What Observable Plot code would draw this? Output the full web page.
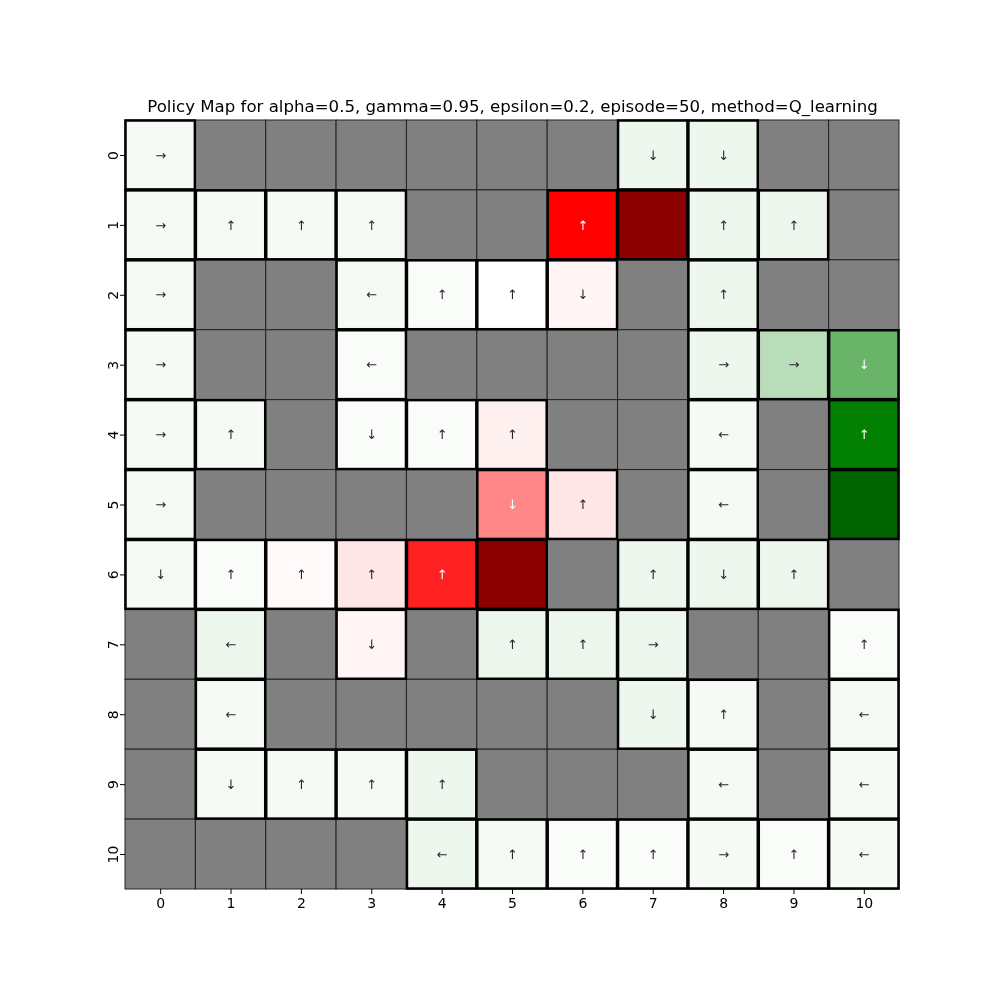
<!DOCTYPE html>
<html>
<head>
<meta charset="utf-8">
<script src="https://cdn.jsdelivr.net/npm/d3@7"></script>
<script src="https://cdn.jsdelivr.net/npm/@observablehq/plot@0.6"></script>
<style>
  body { margin: 0; background: #fff; }
  svg { font-family: "DejaVu Sans", sans-serif; opacity: 0.999; will-change: transform; }
</style>
</head>
<body>
<div id="chart"></div>
<script>
const titleText = "Policy Map for alpha=0.5, gamma=0.95, epsilon=0.2, episode=50, method=Q_learning";
const rowLabels = [0,1,2,3,4,5,6,7,8,9,10];
const colLabels = [0,1,2,3,4,5,6,7,8,9,10];

// cell values (null = wall)
const values = [
  [0.02, null, null, null, null, null, null, 0.033, 0.033, null, null],
  [0.02, 0.02, 0.02, 0.02, null, null, -0.5, -1, 0.033, 0.033, null],
  [0.02, null, null, 0.02, 0.01, 0.0, -0.02, null, 0.033, null, null],
  [0.02, null, null, 0.01, null, null, null, null, 0.033, 0.137, 0.295],
  [0.02, 0.02, null, 0.01, 0.01, -0.03, null, null, 0.02, null, 0.5],
  [0.02, null, null, null, null, -0.235, -0.05, null, 0.02, null, 1],
  [0.02, 0.01, -0.012, -0.05, -0.435, -1, null, 0.033, 0.033, 0.033, null],
  [null, 0.033, null, -0.02, null, 0.033, 0.033, 0.033, null, null, 0.01],
  [null, 0.02, null, null, null, null, null, 0.033, 0.02, null, 0.02],
  [null, 0.02, 0.02, 0.02, 0.033, null, null, null, 0.02, null, 0.02],
  [null, null, null, null, 0.033, 0.02, 0.01, 0.01, 0.02, 0.01, 0.02]
];

// policy arrows ("" = none)
const arrows = [
  ["→", "", "", "", "", "", "", "↓", "↓", "", ""],
  ["→", "↑", "↑", "↑", "", "", "↑", "", "↑", "↑", ""],
  ["→", "", "", "←", "↑", "↑", "↓", "", "↑", "", ""],
  ["→", "", "", "←", "", "", "", "", "→", "→", "↓"],
  ["→", "↑", "", "↓", "↑", "↑", "", "", "←", "", "↑"],
  ["→", "", "", "", "", "↓", "↑", "", "←", "", ""],
  ["↓", "↑", "↑", "↑", "↑", "", "", "↑", "↓", "↑", ""],
  ["", "←", "", "↓", "", "↑", "↑", "→", "", "", "↑"],
  ["", "←", "", "", "", "", "", "↓", "↑", "", "←"],
  ["", "↓", "↑", "↑", "↑", "", "", "", "←", "", "←"],
  ["", "", "", "", "←", "↑", "↑", "↑", "→", "↑", "←"]
];

const cells = [];
rowLabels.forEach((r, i) => colLabels.forEach((c, j) => {
  cells.push({row: r, col: c, value: values[i][j], arrow: arrows[i][j]});
}));
const open = cells.filter(d => d.value !== null);

const chart = Plot.plot({
  width: 1000,
  height: 1000,
  marginLeft: 125,
  marginRight: 101,
  marginTop: 120,
  marginBottom: 111,
  style: {fontFamily: "DejaVu Sans, sans-serif", fontSize: "14px", background: "#fff"},
  x: {type: "band", domain: colLabels, padding: 0, round: false, label: null},
  y: {type: "band", domain: rowLabels, padding: 0, round: false, label: null},
  color: {
    type: "linear",
    domain: [-1, -0.5, 0, 0.5, 1],
    range: ["#8b0000", "#ff0000", "#ffffff", "#008000", "#006400"],
    unknown: "#808080"
  },
  marks: [
    Plot.cell(cells, {x: "col", y: "row", fill: "value", stroke: "#222", strokeWidth: 1, inset: 0}),
    Plot.cell(open, {x: "col", y: "row", fill: "value", stroke: "#000", strokeWidth: 2.5, inset: 0.5}),
    Plot.text(open, {x: "col", y: "row", text: "arrow", fontSize: 13,
      fill: d => Math.abs(d.value) >= 0.2 ? "#ffffff" : "#262626"}),
    Plot.axisX({tickSize: 5, tickPadding: 4, fontSize: 14, label: null}),
    Plot.axisY({tickSize: 5, tickPadding: 3, fontSize: 14, tickRotate: -90, label: null}),
    Plot.text([titleText], {frameAnchor: "top", lineAnchor: "middle", dy: -14, fontSize: 16.6, fill: "#000"})
  ]
});
document.getElementById("chart").appendChild(chart);
</script>
</body>
</html>
